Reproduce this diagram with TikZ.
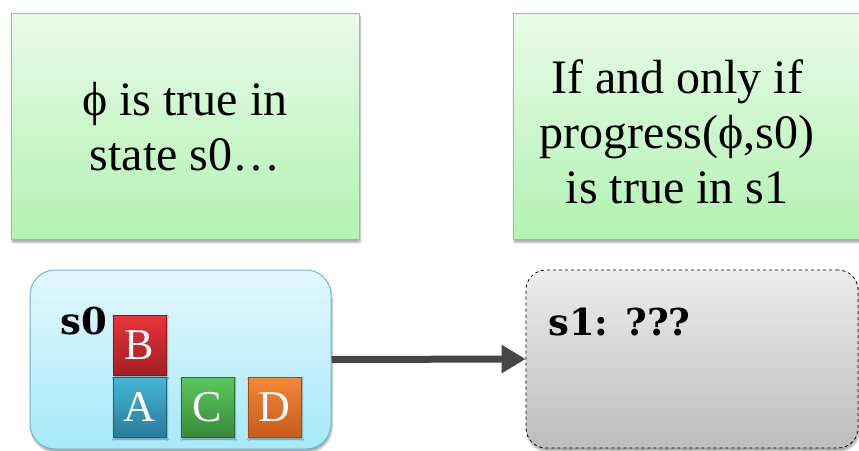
\documentclass[tikz,border=0pt]{standalone}
\usepackage{fontspec}
\setmainfont{Liberation Serif}
\newfontfamily\slab{DejaVu Serif}
\usetikzlibrary{arrows.meta,shadows.blur}
\definecolor{greentop}{HTML}{E8FBE8}
\definecolor{greenbot}{HTML}{B2F2B2}
\definecolor{greenbord}{HTML}{8CC88C}
\definecolor{bluetop}{HTML}{E2F7FD}
\definecolor{bluebot}{HTML}{A6E9FA}
\definecolor{bluebord}{HTML}{6BB9D2}
\definecolor{graytop}{HTML}{ECECEC}
\definecolor{graybot}{HTML}{BDBDBD}
\definecolor{arrowgray}{HTML}{464646}
\definecolor{redtop}{HTML}{E83438}
\definecolor{redbot}{HTML}{A41E22}
\definecolor{bluetopb}{HTML}{44B6D6}
\definecolor{bluebotb}{HTML}{2A7C9A}
\definecolor{greentopb}{HTML}{5CC85C}
\definecolor{greenbotb}{HTML}{3A883A}
\definecolor{orangetop}{HTML}{F4883A}
\definecolor{orangebot}{HTML}{C85A1C}
\begin{document}
\begin{tikzpicture}[x=1pt,y=-1pt,
  softshadow/.style={blur shadow={shadow xshift=1pt,shadow yshift=-3pt,shadow blur steps=6,shadow opacity=35}},
  greenbox/.style={draw=greenbord,line width=1pt,top color=greentop,bottom color=greenbot,inner sep=0pt,softshadow},
  bigtext/.style={align=center,inner sep=0pt,font=\fontsize{48}{55}\selectfont},
  statebox/.style={line width=1pt,inner sep=0pt,softshadow},
  statelabel/.style={anchor=base west,inner sep=0pt,font=\slab\bfseries\fontsize{37}{37}\selectfont},
  blk/.style={minimum width=53pt,minimum height=60pt,inner sep=0pt,text=white,line width=0.6pt,
    font=\fontsize{44}{44}\selectfont,blur shadow={shadow xshift=1pt,shadow yshift=-2pt,shadow blur steps=4,shadow opacity=40}},
  arr/.style={line width=7pt,draw=arrowgray,-{Triangle[length=24pt,width=27pt]}}]
\useasboundingbox (0,0) rectangle (859,450);
\clip (0,0) rectangle (859,450);
% green boxes
\node[greenbox,minimum width=348pt,minimum height=226pt] (g0) at (185,126) {};
\node[greenbox,minimum width=360pt,minimum height=226pt] (g1) at (693,126) {};
\node[bigtext] (g0text) at (185,127) {\char"03D5{} is true in\\state s0\ldots};
\node[bigtext] (g1text) at (677,132) {If and only if\\progress(\char"03D5,s0)\\is true in s1};
% state boxes
\node[statebox,draw=bluebord,top color=bluetop,bottom color=bluebot,rounded corners=25pt,
  minimum width=301pt,minimum height=179pt] (s0box) at (180.5,359.5) {};
\node[statebox,draw=black,line width=0.8pt,dashed,top color=graytop,bottom color=graybot,rounded corners=20pt,
  minimum width=332pt,minimum height=178pt] (s1box) at (692,359) {};
\node[statelabel] (s0lab) at (60,334) {s0};
\node[statelabel] (s1lab) at (548,335) {s1: ???};
% blocks
\node[blk,draw=redbot!80!black,top color=redtop,bottom color=redbot] (B) at (139.5,345) {B};
\node[blk,draw=bluebotb!80!black,top color=bluetopb,bottom color=bluebotb] (A) at (139.5,407) {A};
\node[blk,draw=greenbotb!80!black,top color=greentopb,bottom color=greenbotb] (C) at (207.5,407) {C};
\node[blk,draw=orangebot!80!black,top color=orangetop,bottom color=orangebot] (D) at (274.5,407) {D};
% arrow
\draw[arr] (s0box.east) -- (s1box.west);
\end{tikzpicture}
\end{document}
